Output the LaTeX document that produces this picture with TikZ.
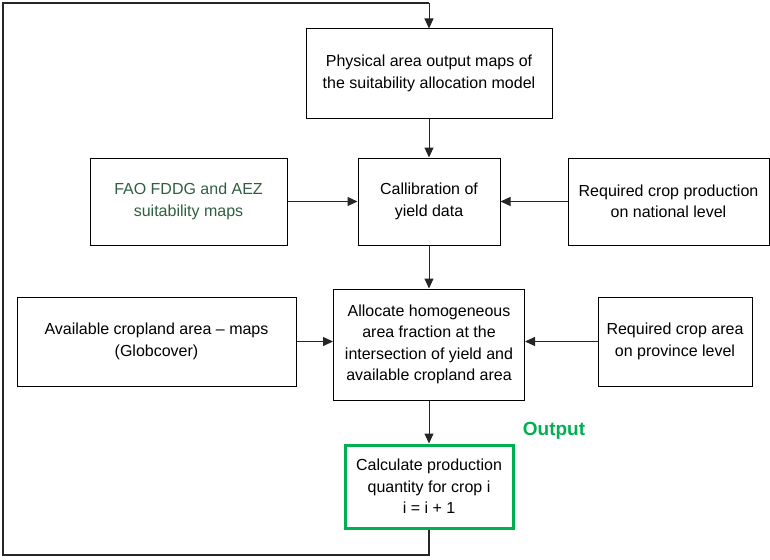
\documentclass[tikz,border=0pt]{standalone}
\usepackage{fontspec}
\setmainfont{Liberation Sans}
\usetikzlibrary{arrows.meta}
\definecolor{faogreen}{HTML}{2F5F3F}
\definecolor{outgreen}{HTML}{00B050}
\tikzset{
  box/.style={draw=black, line width=1pt, rectangle, align=center, inner sep=0pt,
    font=\fontsize{16}{21.5}\selectfont},
  conn/.style={draw=black!85, line width=1pt, -{Triangle[length=10pt,width=9pt]}},
  loopline/.style={draw=black!85, line width=1.3pt}
}
\begin{document}
\begin{tikzpicture}[x=1pt,y=-1pt]
\useasboundingbox (0,0) rectangle (770,559);
\node[box, minimum width=246pt, minimum height=89pt] (top) at (429,73.5) {Physical area output maps of\\the suitability allocation model};
\node[box, minimum width=197pt, minimum height=87pt, text=faogreen] (fao) at (188.5,201.5) {FAO FDDG and AEZ\\suitability maps};
\node[box, minimum width=142pt, minimum height=87pt] (cal) at (429,201.5) {Callibration of\\yield data};
\node[box, minimum width=201pt, minimum height=87pt] (nat) at (668.5,201.5) {Required crop production\\on national level};
\node[box, minimum width=279pt, minimum height=89pt] (avail) at (156.5,341.5) {Available cropland area -- maps\\(Globcover)};
\node[box, minimum width=191pt, minimum height=111pt] (alloc) at (429,344.5) {Allocate homogeneous\\area fraction at the\\intersection of yield and\\available cropland area};
\node[box, minimum width=154pt, minimum height=89pt] (prov) at (675,341.5) {Required crop area\\on province level};
\node[box, draw=outgreen, line width=3pt, minimum width=168pt, minimum height=83pt] (calc) at (429,486.5) {Calculate production\\quantity for crop i\\i = i + 1};
\node[font=\fontsize{19}{22}\selectfont\bfseries, text=outgreen, inner sep=0pt] (out) at (554,431) {Output};
\coordinate (lb) at (429,555);
\coordinate (ll) at (3,555);
\coordinate (lt) at (3,3);
\coordinate (rt) at (429,3);
\draw[conn] (top) -- (cal);
\draw[conn] (fao) -- (cal);
\draw[conn] (nat) -- (cal);
\draw[conn] (cal) -- (alloc);
\draw[conn] (avail.east) -- (avail.east -| alloc.west);
\draw[conn] (prov.west) -- (prov.west -| alloc.east);
\draw[conn] (alloc) -- (calc);
\draw[loopline] (calc.south) -- (lb) -- (ll) -- (lt) -- (rt);
\draw[conn] (rt) -- (top.north);
\end{tikzpicture}
\end{document}
